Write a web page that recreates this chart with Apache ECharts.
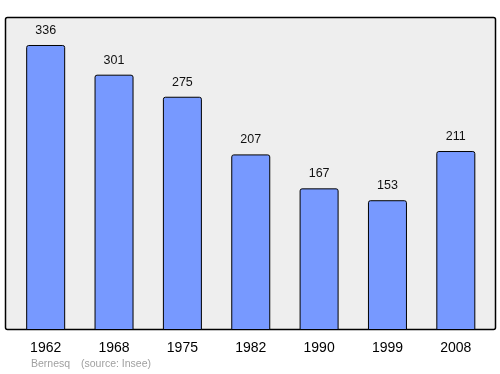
<!DOCTYPE html>
<html><head><meta charset="utf-8">
<script src="https://cdn.jsdelivr.net/npm/echarts@6/dist/echarts.min.js"></script>
<style>html,body{margin:0;padding:0;background:#fff}#c{width:500px;height:374px}</style>
</head><body><div id="c"></div>
<script>
var years = ['1962','1968','1975','1982','1990','1999','2008'];
var population = [336, 301, 275, 207, 167, 153, 211];
var chart = echarts.init(document.getElementById('c'));
chart.setOption({
  animation: false,
  graphic: [
    {type:'rect', z:-10, shape:{x:5.5,y:17.5,width:490,height:312,r:2}, style:{fill:'#eeeeee', stroke:'#000', lineWidth:1.5}},
    {type:'text', left:31, top:359, style:{text:'Bernesq', fill:'#a0a0a0', font:'10.5px "Liberation Sans", Arial, sans-serif'}},
    {type:'text', left:81, top:359, style:{text:'(source: Insee)', fill:'#a0a0a0', font:'10.5px "Liberation Sans", Arial, sans-serif'}}
  ],
  grid: {left: 11.5, width: 478.5, top: 17, bottom: 44, show:false},
  xAxis: {type:'category', data: years, axisLine:{show:false}, axisTick:{show:false},
    axisLabel:{color:'#000', fontSize:14, fontFamily:'"Liberation Sans", Arial, sans-serif', margin:11}},
  yAxis: {type:'value', min:0, max:369, show:false, splitLine:{show:false}},
  series: [{type:'bar', data: population, barWidth: 39,
    itemStyle:{color:'#7799ff', borderColor:'#000', borderWidth:1, borderRadius:[2,2,0,0]},
    label:{show:true, position:'top', distance:8, color:'#111', fontSize:12.5, fontFamily:'"Liberation Sans", Arial, sans-serif'}}]
});
</script></body></html>
